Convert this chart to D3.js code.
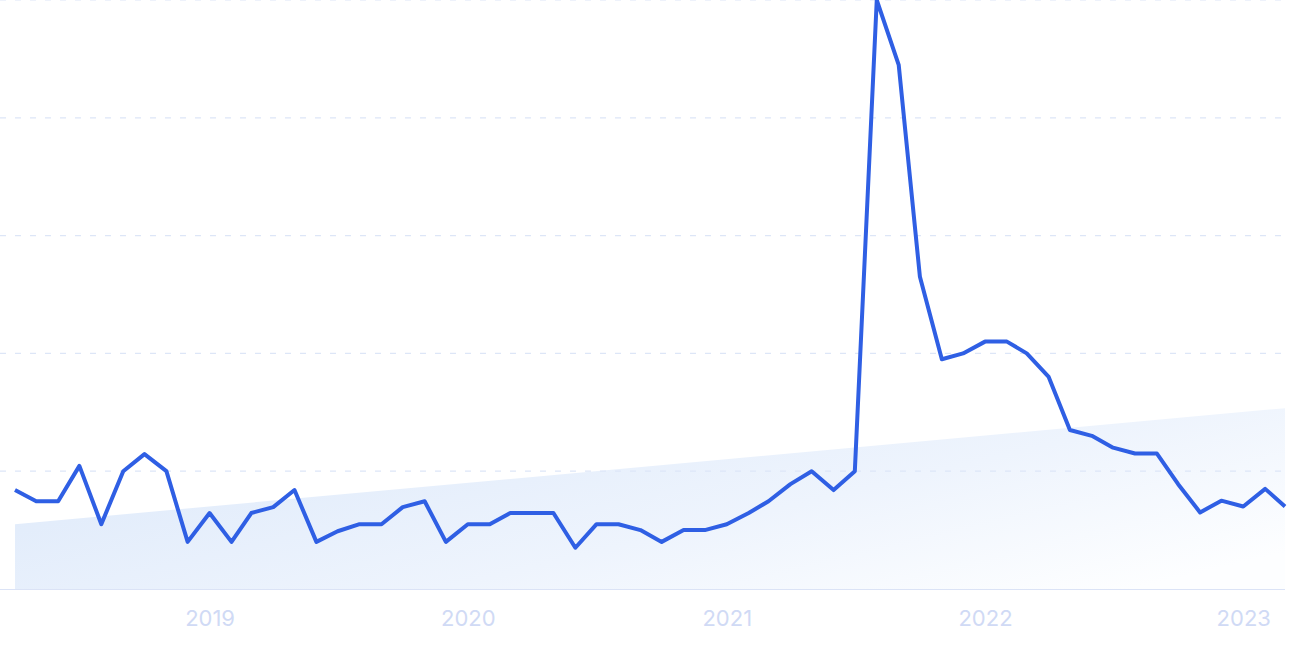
<!DOCTYPE html>
<html>
<head>
<meta charset="utf-8">
<script src="https://cdn.jsdelivr.net/npm/d3@7"></script>
<style>
  body { margin: 0; background: #fff; }
  svg { display: block; font-family: Inter, "Noto Sans", sans-serif; }
</style>
</head>
<body>
<div id="chart"></div>
<script>
var width = 1290;
var height = 645;

// monthly values, Apr 2018 - Mar 2023
var startMonth = "2018-04";
var values = [
  16.8, 14.9, 14.9, 20.9, 11.0, 20.0, 22.9, 20.0, 8.0, 12.9,
  8.0, 12.9, 13.9, 16.8, 8.0, 9.8, 11.0, 11.0, 13.9, 14.9,
  8.0, 11.0, 11.0, 12.9, 12.9, 12.9, 7.0, 11.0, 11.0, 10.0,
  8.0, 10.0, 10.0, 11.0, 12.9, 14.9, 17.8, 20.0, 16.8, 20.0,
  100, 89, 53, 39, 40, 42, 42, 40, 36, 27,
  26, 24, 23, 23, 17.8, 13, 15, 14, 17, 14
];
var trendValues = [11.0, 30.7]; // at first and last month
var yTicks = [0, 20, 40, 60, 80, 100];
var xTickYears = [2019, 2020, 2021, 2022, 2023];

var parse = d3.timeParse("%Y-%m");
var start = parse(startMonth);
var data = values.map(function (v, i) {
  return { date: d3.timeMonth.offset(start, i), v: v };
});

var plotLeft = 15, plotRight = 1285, plotTop = 0, plotBottom = 589;

var x = d3.scaleTime()
  .domain([data[0].date, data[data.length - 1].date])
  .range([plotLeft, plotRight]);
var y = d3.scaleLinear().domain([0, 100]).range([plotBottom, plotTop]);

var svg = d3.select("#chart").append("svg")
  .attr("width", width)
  .attr("height", height);

var defs = svg.append("defs");
var grad = defs.append("linearGradient")
  .attr("id", "trendFill")
  .attr("x1", "0").attr("y1", "0.2")
  .attr("x2", "1").attr("y2", "0.8");
grad.append("stop").attr("offset", "0%").attr("stop-color", "#dde9fa");
grad.append("stop").attr("offset", "60%").attr("stop-color", "#eef4fd");
grad.append("stop").attr("offset", "100%").attr("stop-color", "#fdfeff");

// trend area
var trend = [
  { date: data[0].date, v: trendValues[0] },
  { date: data[data.length - 1].date, v: trendValues[1] }
];
svg.append("path")
  .datum(trend)
  .attr("fill", "url(#trendFill)")
  .attr("d", d3.area()
    .x(function (d) { return x(d.date); })
    .y0(y(0))
    .y1(function (d) { return y(d.v); }));

// grid
svg.append("g")
  .selectAll("line")
  .data(yTicks.slice(1))
  .enter()
  .append("line")
  .attr("x1", 0)
  .attr("x2", width)
  .attr("y1", function (d) { return y(d); })
  .attr("y2", function (d) { return y(d); })
  .attr("stroke", "#dde6f7")
  .attr("stroke-width", 1.2)
  .attr("stroke-dasharray", "6,9");

// baseline
svg.append("line")
  .attr("x1", 0)
  .attr("x2", plotRight)
  .attr("y1", y(0) + 0.5)
  .attr("y2", y(0) + 0.5)
  .attr("stroke", "#dbe3f6")
  .attr("stroke-width", 1.2);

// x labels
var xAxis = d3.axisBottom(x)
  .tickValues(xTickYears.map(function (yr) { return new Date(yr, 0, 1); }))
  .tickFormat(d3.timeFormat("%Y"))
  .tickSize(0)
  .tickPadding(21);

var gx = svg.append("g")
  .attr("transform", "translate(0," + y(0) + ")")
  .call(xAxis);
gx.select(".domain").remove();
gx.selectAll("text")
  .attr("fill", "#d0daf5")
  .style("font-size", "22px")
  .style("font-family", "Inter, 'Noto Sans', sans-serif");

// line
svg.append("path")
  .datum(data)
  .attr("fill", "none")
  .attr("stroke", "#2f5fe4")
  .attr("stroke-width", 4)
  .attr("stroke-linejoin", "round")
  .attr("d", d3.line()
    .x(function (d) { return x(d.date); })
    .y(function (d) { return y(d.v); }));
</script>
</body>
</html>
